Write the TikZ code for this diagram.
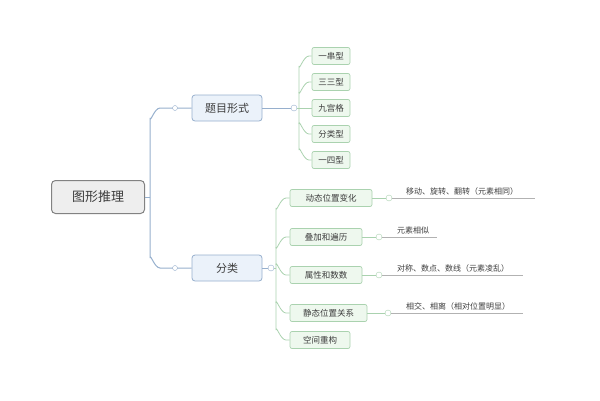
\documentclass[tikz,border=0pt]{standalone}
\usepackage{fontspec}
\setmainfont{Noto Sans CJK SC}
\definecolor{gb}{RGB}{150,175,205}
\definecolor{gf}{RGB}{235,242,250}
\definecolor{grb}{RGB}{170,210,175}
\definecolor{grf}{RGB}{238,248,238}
\definecolor{rb}{RGB}{130,130,130}
\definecolor{rf}{RGB}{238,238,238}
\definecolor{tx}{RGB}{60,60,60}
\tikzset{
 rootbox/.style={draw=rb,fill=rf,rounded corners=4pt,line width=1pt,minimum width=93pt,minimum height=33pt,font=\fontsize{13}{13}\selectfont,text=tx},
 midbox/.style={draw=gb,fill=gf,rounded corners=3pt,line width=0.8pt,minimum width=70pt,minimum height=26pt,font=\fontsize{11}{11}\selectfont,text=tx},
 leafbox/.style={draw=grb,fill=grf,rounded corners=2pt,line width=0.7pt,minimum height=17pt,inner xsep=5pt,font=\fontsize{8.5}{8.5}\selectfont,text=tx},
 lab/.style={font=\fontsize{8}{8}\selectfont,text=tx,anchor=south west,inner sep=1pt},
 bl/.style={draw=gb,line width=1pt},
 gl/.style={draw=grb,line width=0.8pt},
 dot/.style={circle,draw=#1,fill=white,inner sep=0pt,minimum size=6pt},
}
\begin{document}
\begin{tikzpicture}[x=1pt,y=-1pt]
\useasboundingbox (0,0) rectangle (600,400);
\node[rootbox] (root) at (98,197) {图形推理};
\node[midbox] (m1) at (227,108) {题目形式};
\node[midbox] (m2) at (227,268) {分类};
\coordinate (rj) at (150,197);
\draw[bl] (root.east) -- (rj);
\draw[bl] (rj) -- (150,118) to[out=-90,in=180] (160,108) -- (m1.west);
\draw[bl] (rj) -- (150,258) to[out=90,in=180] (160,268) -- (m2.west);
\node[dot=gb,minimum size=5pt] at (175,108) {};
\node[dot=gb,minimum size=5pt] at (175,268) {};
% group 1
\foreach \n/\y/\t in {a/56/一串型,b/82/三三型,c/108/九宫格,d/134/分类型,e/160/一四型}{
  \node[leafbox,minimum width=38pt] (\n) at (331,\y) {\t};
}
\node[dot=gb] (c1) at (294,108) {};
\draw[bl] (m1.east) -- (c1);
\draw[gl] (c1.east) -- (c);
\draw[gl] (299,108) -- (299,66) to[out=-90,in=180] (309,56) -- (a.west);
\draw[gl] (299,92) to[out=-90,in=180] (309,82) -- (b.west);
\draw[gl] (299,108) -- (299,150) to[out=90,in=180] (309,160) -- (e.west);
\draw[gl] (299,124) to[out=90,in=180] (309,134) -- (d.west);
% group 2
\node[leafbox,minimum width=82pt] (p) at (331,198) {动态位置变化};
\node[leafbox,minimum width=72pt] (q) at (326,237) {叠加和遍历};
\node[leafbox,minimum width=72pt] (r) at (326,275) {属性和数数};
\node[leafbox,minimum width=77pt] (s) at (328.5,313) {静态位置关系};
\node[leafbox,minimum width=60pt] (t) at (320,340) {空间重构};
\node[dot=gb] (c2) at (271,268) {};
\draw[bl] (m2.east) -- (c2);
\draw[gl] (c2.east) -- (276,268);
\draw[gl] (276,268) -- (276,208) to[out=-90,in=180] (286,198) -- (p.west);
\draw[gl] (276,247) to[out=-90,in=180] (286,237) -- (q.west);
\draw[gl] (276,268) -- (276,330) to[out=90,in=180] (286,340) -- (t.west);
\draw[gl] (276,265) to[out=90,in=180] (286,275) -- (r.west);
\draw[gl] (276,303) to[out=90,in=180] (286,313) -- (s.west);
% labels
\node[dot=grb] (cp) at (389,198) {};
\node[dot=grb] (cq) at (379,237) {};
\node[dot=grb] (cr) at (379,275) {};
\node[dot=grb] (cs) at (388,313) {};
\foreach \a/\b in {p/cp,q/cq,r/cr,s/cs}{\draw[gl] (\a.east) -- (\b);}
\coordinate (ep) at (535,198);
\coordinate (eq) at (437,237);
\coordinate (er) at (523,275);
\coordinate (es) at (523,313);
\draw[draw=gray!60,line width=0.7pt] (cp.east) -- (ep);
\draw[draw=gray!60,line width=0.7pt] (cq.east) -- (eq);
\draw[draw=gray!60,line width=0.7pt] (cr.east) -- (er);
\draw[draw=gray!60,line width=0.7pt] (cs.east) -- (es);
\node[lab] at (405,196) {移动、旋转、翻转（元素相同）};
\node[lab] at (396,235) {元素相似};
\node[lab] at (396,273) {对称、数点、数线（元素凌乱）};
\node[lab] at (405,311) {相交、相离（相对位置明显）};
\end{tikzpicture}
\end{document}
